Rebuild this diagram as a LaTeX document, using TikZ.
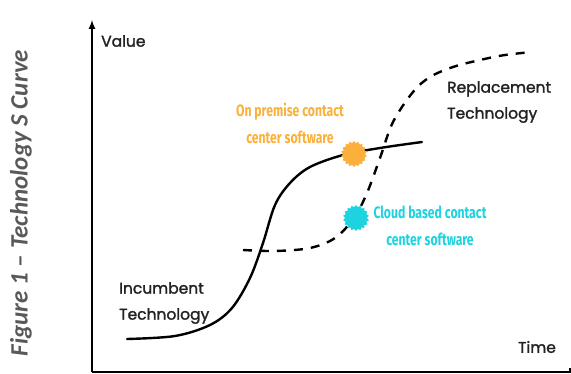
\documentclass[tikz,border=0pt]{standalone}
\usepackage{fontspec}
\usepackage{tikz}
\usetikzlibrary{arrows,shapes.geometric,positioning}
\newfontfamily\labelfont[FakeBold=1.6]{Poppins}
\newfontfamily\condfont[FakeStretch=0.74]{Fira Sans}
\newfontfamily\capfont{Carlito}
\definecolor{premorange}{HTML}{FBB03B}
\definecolor{cloudcyan}{HTML}{1DD3E0}
\definecolor{capgray}{HTML}{595959}
\definecolor{inkgray}{HTML}{222222}

\begin{document}
\begin{tikzpicture}[x=1pt,y=-1pt,
  lbl/.style={text=inkgray,font=\labelfont\fontsize{15.5}{26}\selectfont,align=left,inner sep=0pt},
  note/.style={font=\condfont\bfseries\fontsize{16.5}{27}\selectfont,align=center,inner sep=0pt},
  burst/.style={star,star points=18,star point ratio=1.18,minimum size=26pt,inner sep=0pt,fill=#1}]
\useasboundingbox (0,0) rectangle (571,374);
\coordinate (O) at (92,372);
\coordinate (Y) at (92,20);
\coordinate (X) at (570,372);
\draw[line width=2pt,-latex] (O) -- (Y);
\draw[line width=2pt] (O) -- (X) -- ++(0,-4);
\node[lbl,anchor=west] (value) at (101,41) {Value};
\node[lbl] (time) at (537,347) {Time};
% incumbent and replacement curves
\draw[line width=2.4pt,line cap=round] plot[smooth,tension=0.55] coordinates
  {(127,339) (175,336) (210,325) (232,308) (250,278) (263,243) (275,205) (290,183) (310,167) (343,155) (380,148) (422,142)};
\draw[line width=2.4pt,dash pattern=on 9pt off 8pt] plot[smooth,tension=0.55] coordinates
  {(243,250) (275,251) (310,248) (335,238) (354,218) (367,193) (380,158) (393,122) (413,92) (430,77) (453,67) (480,60) (505,55) (532,52)};
\node[lbl,anchor=west] (incumbent) at (119,303) {Incumbent\\Technology};
\node[lbl,anchor=west] (replacement) at (447,102) {Replacement\\Technology};
\node[burst=premorange] (onprem) at (354,154) {};
\node[burst=cloudcyan] (cloud) at (356,218) {};
\node[note,text=premorange] (onpremtxt) at (290,123) {On premise contact\\center software};
\node[note,text=cloudcyan] (cloudtxt) at (430,226) {Cloud based contact\\center software};
\node[text=capgray,font=\capfont\bfseries\itshape\fontsize{25}{25}\selectfont,rotate=90] (caption) at (21,203) {Figure 1 – Technology S Curve};
\end{tikzpicture}
\end{document}
